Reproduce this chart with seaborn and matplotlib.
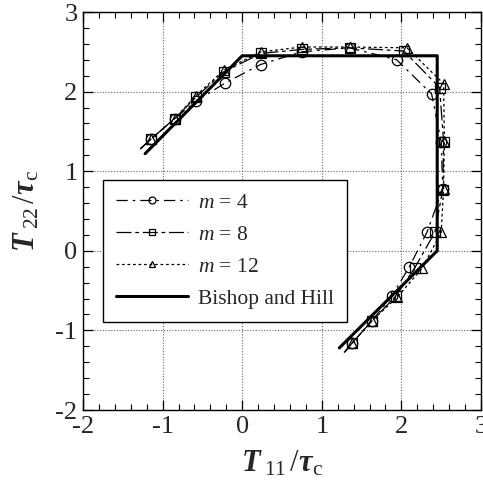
import matplotlib
matplotlib.use("Agg")
import matplotlib.pyplot as plt
import seaborn as sns
from matplotlib.ticker import MultipleLocator

# Bishop and Hill yield locus (upper-right portion)
bh_x = [-1.22, 0.0, 2.45, 2.45, 1.22]
bh_y = [1.22, 2.45, 2.45, 0.0, -1.22]

# Model predictions; first and last entries are curve ends without markers
m4_x = [-1.28, -1.15, -0.85, -0.58, -0.21, 0.23, 0.75, 1.35, 1.94, 2.38, 2.50, 2.52, 2.32, 2.10, 1.88, 1.63, 1.38, 1.28]
m4_y = [1.28, 1.40, 1.66, 1.88, 2.11, 2.34, 2.50, 2.55, 2.40, 1.97, 1.37, 0.78, 0.23, -0.20, -0.57, -0.88, -1.16, -1.28]

m8_x = [-1.28, -1.15, -0.85, -0.58, -0.23, 0.24, 0.75, 1.35, 2.03, 2.48, 2.53, 2.52, 2.42, 2.17, 1.93, 1.63, 1.38, 1.28]
m8_y = [1.28, 1.40, 1.66, 1.93, 2.25, 2.48, 2.53, 2.55, 2.51, 2.05, 1.37, 0.77, 0.23, -0.21, -0.57, -0.88, -1.16, -1.28]

m12_x = [-1.28, -1.15, -0.85, -0.58, -0.23, 0.24, 0.75, 1.35, 2.07, 2.53, 2.54, 2.53, 2.50, 2.26, 1.95, 1.63, 1.38, 1.28]
m12_y = [1.28, 1.40, 1.66, 1.95, 2.27, 2.50, 2.56, 2.56, 2.55, 2.10, 1.38, 0.78, 0.23, -0.22, -0.58, -0.88, -1.16, -1.28]

series = [
    (r"$m$ = 4", m4_x, m4_y, "o", (0, (9, 4, 2, 4))),
    (r"$m$ = 8", m8_x, m8_y, "s", (0, (12, 3, 3, 3))),
    (r"$m$ = 12", m12_x, m12_y, "^", (0, (2.2, 2.2))),
]

ticks = [-2, -1, 0, 1, 2, 3]

sns.set_theme(style="white")
plt.rcParams["font.family"] = ["Liberation Serif", "DejaVu Serif"]
plt.rcParams["mathtext.fontset"] = "custom"
plt.rcParams["mathtext.rm"] = "Liberation Serif"
plt.rcParams["mathtext.it"] = "Liberation Serif:italic"
plt.rcParams["mathtext.bf"] = "Liberation Serif:bold"
plt.rcParams["mathtext.bfit"] = "Liberation Serif:italic:bold"

fig = plt.figure(figsize=(4.83, 4.90), dpi=100)
ax = fig.add_axes([83 / 483, 80 / 490, 398 / 483, 398 / 490])

for label, xs, ys, mk, ls in series:
    sns.lineplot(x=xs, y=ys, ax=ax, sort=False, estimator=None, color="black",
                 linewidth=0.9, linestyle=ls, marker=mk, markersize=7.5,
                 markerfacecolor="none", markeredgecolor="black",
                 markeredgewidth=0.9, markevery=slice(1, -1), label=label)

sns.lineplot(x=bh_x, y=bh_y, ax=ax, sort=False, estimator=None, color="black",
             linewidth=2.2, label="Bishop and Hill")

ax.set_xlim(-2, 3)
ax.set_ylim(-2, 3)
ax.set_xticks(ticks)
ax.set_yticks(ticks)
ax.set_xticklabels([str(t) for t in ticks])
ax.set_yticklabels([str(t) for t in ticks])
ax.xaxis.set_minor_locator(MultipleLocator(0.2))
ax.yaxis.set_minor_locator(MultipleLocator(0.2))
ax.tick_params(which="both", direction="in", top=True, right=True,
               bottom=True, left=True, color="black")
ax.tick_params(which="major", length=7, width=0.9, labelsize=19, pad=4)
ax.tick_params(which="minor", length=4.5, width=0.8)
ax.grid(True, which="major", linestyle=(0, (1, 1.5)), color="#666666", linewidth=0.8)

for sp in ax.spines.values():
    sp.set_color("black")
    sp.set_linewidth(1.0)

ax.set_xlabel(r"$\mathbfit{T}_{\;\mathrm{11}}\,/\mathbfit{\tau}_{\mathrm{c}}$", fontsize=22, labelpad=8)
ax.set_ylabel(r"$\mathbfit{T}_{\;\mathrm{22}}\,/\mathbfit{\tau}_{\mathrm{c}}$", fontsize=22, labelpad=10)

leg = ax.legend(loc="upper left", bbox_to_anchor=(0.05, 0.578), fontsize=15.5,
                frameon=True, fancybox=False, edgecolor="black", framealpha=1,
                handlelength=3.35, handletextpad=0.45, labelspacing=0.55,
                borderpad=0.6, borderaxespad=0)
leg.get_frame().set_linewidth(1.0)
for h in leg.legend_handles:
    h.set_markersize(5)

fig.savefig("out.png", dpi=100)
